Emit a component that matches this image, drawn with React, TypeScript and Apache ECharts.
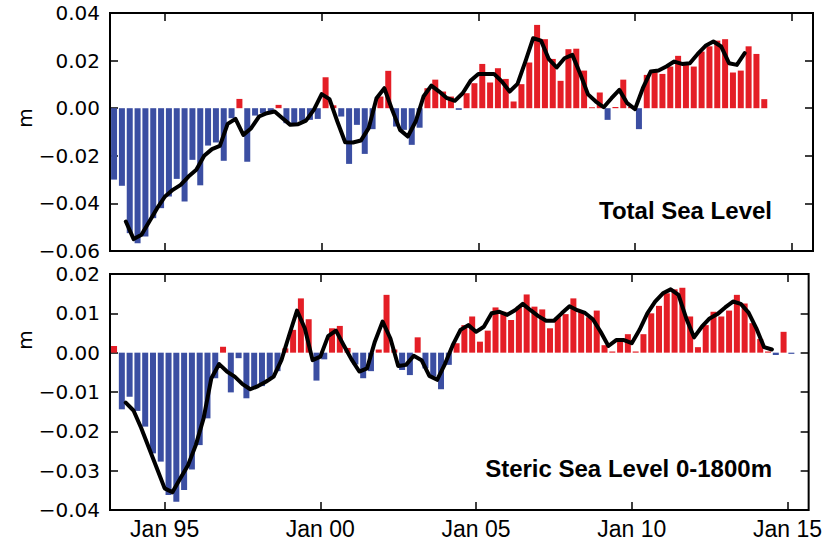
import React, { useEffect, useRef } from "react";
import * as echarts from "echarts";

// Quarterly bars (mid-quarter), first bar Q2 1993
const BAR_START = 1993.375;
// Running-mean line vertices on quarter boundaries, first at Oct 1993
const LINE_START = 1993.75;
const STEP = 0.25;

const totalBars = [
  -0.030, -0.0326, -0.0525, -0.0567, -0.0539, -0.0462, -0.042, -0.0371, -0.0297, -0.0392,
  -0.0217, -0.0324, -0.0157, -0.0144, -0.0221, -0.0042, 0.0039, -0.0225, -0.0031, -0.0021,
  -0.0014, 0.0014, -0.0063, -0.007, -0.0053, -0.0049, -0.0045, 0.013, 0.0012, -0.0035,
  -0.0234, -0.007, -0.0192, -0.0088, 0.0049, 0.0157, -0.0077, -0.0091, -0.0154, -0.0082,
  0.0084, 0.012, 0.007, 0.0049, -0.0007, 0.0063, 0.0105, 0.0186, 0.0108, 0.0168,
  0.0123, 0.0028, 0.0101, 0.0192, 0.035, 0.029, 0.0207, 0.0115, 0.0248, 0.025,
  0.0158, 0.0004, 0.0066, -0.0049, 0.0005, 0.012, 0.0005, -0.0088, 0.014, 0.016,
  0.0144, 0.0175, 0.022, 0.0182, 0.0175, 0.0238, 0.026, 0.0284, 0.029, 0.015,
  0.0158, 0.026, 0.0228, 0.0038,
];

const totalLine = [
  -0.0476, -0.055, -0.0532, -0.0476, -0.042, -0.0371, -0.0343, -0.0322, -0.0287, -0.0259,
  -0.02, -0.0172, -0.0158, -0.0066, -0.0045, -0.0112, -0.0084, -0.0035, -0.0021, -0.0014,
  -0.0042, -0.007, -0.0067, -0.0052, -0.0007, 0.0059, 0.0038, -0.0056, -0.0143, -0.0144,
  -0.0136, -0.0084, 0.0042, 0.0084, -0.0007, -0.0091, -0.0119, -0.0056, 0.0049, 0.0095,
  0.007, 0.0042, 0.0031, 0.0063, 0.0115, 0.0144, 0.0144, 0.0144, 0.0112, 0.007,
  0.0102, 0.0196, 0.0294, 0.0284, 0.0206, 0.0171, 0.021, 0.0224, 0.0145, 0.0058,
  0.0028, 0.0004, 0.0042, 0.0077, 0.0021, -0.0004, 0.0084, 0.0154, 0.0158, 0.0175,
  0.0196, 0.0186, 0.0189, 0.0228, 0.0262, 0.028, 0.0259, 0.0189, 0.0182, 0.0231,
];

const stericBars = [
  0.0017, -0.0144, -0.0112, -0.0148, -0.0188, -0.0256, -0.0277, -0.0362, -0.0379, -0.0349,
  -0.0297, -0.0235, -0.0167, -0.0065, 0.0015, -0.0101, -0.0014, -0.0116, -0.0091, -0.0085,
  -0.0065, -0.0047, 0.0011, 0.0058, 0.0138, 0.0085, -0.0071, -0.0017, 0.0062, 0.0068,
  0.0012, -0.003, -0.0065, -0.0047, 0.0008, 0.0147, 0.0008, -0.0044, -0.0057, 0.0039,
  -0.004, -0.0061, -0.0093, -0.0031, 0.0024, 0.007, 0.0092, 0.0028, 0.0056, 0.0115,
  0.0104, 0.0083, 0.0117, 0.0148, 0.0117, 0.011, 0.0062, 0.009, 0.0098, 0.0138,
  0.0105, 0.009, 0.0107, 0.0019, 0.0003, 0.003, 0.0047, 0.0003, 0.0047, 0.01,
  0.0119, 0.0151, 0.0161, 0.0165, 0.0092, 0.0014, 0.007, 0.0104, 0.0092, 0.0107,
  0.0147, 0.0125, 0.0075, 0.0035, 0.0003, -0.0006, 0.0053, -0.0003,
];

const stericLine = [
  -0.0127, -0.0147, -0.0192, -0.0243, -0.0294, -0.0345, -0.0355, -0.032, -0.0286, -0.0235,
  -0.0167, -0.0065, -0.0029, -0.0048, -0.0061, -0.008, -0.0093, -0.0085, -0.0074, -0.0061,
  -0.0019, 0.0045, 0.0107, 0.0062, -0.0019, -0.001, 0.0042, 0.0056, 0.0019, -0.0017,
  -0.0048, -0.004, 0.0028, 0.0079, 0.0036, -0.0034, -0.0031, -0.0008, -0.0019, -0.0059,
  -0.0069, -0.0029, 0.0019, 0.0058, 0.007, 0.0053, 0.0066, 0.01, 0.0104, 0.0096,
  0.0108, 0.0124, 0.0108, 0.0093, 0.0081, 0.0081, 0.01, 0.0118, 0.0108, 0.0101,
  0.0085, 0.0053, 0.0017, 0.0032, 0.0032, 0.0024, 0.0058, 0.01, 0.013, 0.0151,
  0.0161, 0.0147, 0.0087, 0.0039, 0.0066, 0.0087, 0.0098, 0.0115, 0.013, 0.0124,
  0.0102, 0.0062, 0.0014, 0.0008,
];

const xTicks = [1995, 2000, 2005, 2010, 2015];
const panelTitles = ["Total Sea Level", "Steric Sea Level 0-1800m"];
const yUnit = "m";

const X_MIN = 1993.245;
const X_MAX = 2015.68;
const RED = "#E41E26";
const BLUE = "#3B4EA2";

const toPairs = (start: number, arr: number[]) => arr.map((v, i) => [start + STEP * i, v]);

const yFmt = (v: number) => {
  const s = Math.abs(v) < 1e-9 ? "0.00" : v.toFixed(2);
  return s.replace("-", "\u2212");
};
const xFmt = (v: number) => "Jan " + String(Math.round(v) % 100).padStart(2, "0");

export default function App() {
  const ref = useRef<HTMLDivElement>(null);
  useEffect(() => {
    if (!ref.current) return;
    const chart = echarts.init(ref.current, undefined, { renderer: "svg" });
    const grids = [
      { left: 110, top: 13, width: 703, height: 238 },
      { left: 110, top: 274, width: 703, height: 236 },
    ];
    const tickStyle = { color: "#000", width: 1.5 };
    const mkX = (gi: number, pos: string, labels: boolean) => ({
      gridIndex: gi,
      type: "value",
      min: X_MIN,
      max: X_MAX,
      position: pos,
      axisLine: { show: false, onZero: false },
      axisTick: { show: true, inside: true, length: 8, customValues: xTicks, lineStyle: tickStyle },
      axisLabel: {
        show: labels,
        customValues: xTicks,
        formatter: xFmt,
        color: "#000",
        fontSize: 23,
        fontFamily: '"Liberation Sans", Arial, sans-serif',
        margin: 7,
      },
      splitLine: { show: false },
    });
    const mkY = (gi: number, pos: string, labels: boolean, min: number, max: number, interval: number) => ({
      gridIndex: gi,
      type: "value",
      min,
      max,
      interval,
      position: pos,
      axisLine: { show: false, onZero: false },
      axisTick: { show: true, inside: true, length: 8, lineStyle: tickStyle },
      axisLabel: {
        show: labels,
        formatter: yFmt,
        color: "#000",
        fontSize: 20,
        fontFamily: '"DejaVu Sans", sans-serif',
        margin: 10,
      },
      splitLine: { show: false },
    });
    const barColor = (p: any) => (p.value[1] >= 0 ? RED : BLUE);
    const lineStyle = { color: "#000", width: 4, join: "round", cap: "round" };
    const titleFont = 'bold 24px "Liberation Sans", Arial, sans-serif';
    const mkText = (text: string, x: number, y: number, align: string, font: string, rotation = 0) => ({
      type: "text",
      x,
      y,
      z: 10,
      rotation,
      style: {
        text,
        align,
        textAlign: align,
        verticalAlign: "middle",
        textVerticalAlign: "middle",
        font,
        fill: "#000",
      },
    });
    const option: any = {
      animation: false,
      backgroundColor: "#fff",
      grid: grids.map((g) => ({ ...g, show: true, borderColor: "#000", borderWidth: 2, backgroundColor: "transparent" })),
      xAxis: [mkX(0, "bottom", false), mkX(0, "top", false), mkX(1, "bottom", true), mkX(1, "top", false)],
      yAxis: [
        mkY(0, "left", true, -0.06, 0.04, 0.02),
        mkY(0, "right", false, -0.06, 0.04, 0.02),
        mkY(1, "left", true, -0.04, 0.02, 0.01),
        mkY(1, "right", false, -0.04, 0.02, 0.01),
      ],
      series: [
        {
          type: "bar",
          xAxisIndex: 0,
          yAxisIndex: 0,
          data: toPairs(BAR_START, totalBars),
          barWidth: 6,
          itemStyle: { color: barColor },
        },
        {
          type: "line",
          xAxisIndex: 0,
          yAxisIndex: 0,
          data: toPairs(LINE_START, totalLine),
          symbol: "none",
          z: 5,
          lineStyle,
        },
        {
          type: "bar",
          xAxisIndex: 2,
          yAxisIndex: 2,
          data: toPairs(BAR_START, stericBars),
          barWidth: 6,
          itemStyle: { color: barColor },
        },
        {
          type: "line",
          xAxisIndex: 2,
          yAxisIndex: 2,
          data: toPairs(LINE_START, stericLine),
          symbol: "none",
          z: 5,
          lineStyle,
        },
      ],
      graphic: [
        mkText(panelTitles[0], 772, 210, "right", titleFont),
        mkText(panelTitles[1], 772, 468, "right", titleFont),
        mkText(yUnit, 25, 118, "center", '20px "DejaVu Sans", sans-serif', Math.PI / 2),
        mkText(yUnit, 25, 340, "center", '20px "DejaVu Sans", sans-serif', Math.PI / 2),
      ],
    };
    chart.setOption(option);
    return () => chart.dispose();
  }, []);
  return (
    <div
      ref={ref}
      style={{ position: "absolute", left: 0, top: 0, width: 825, height: 541 }}
    />
  );
}
